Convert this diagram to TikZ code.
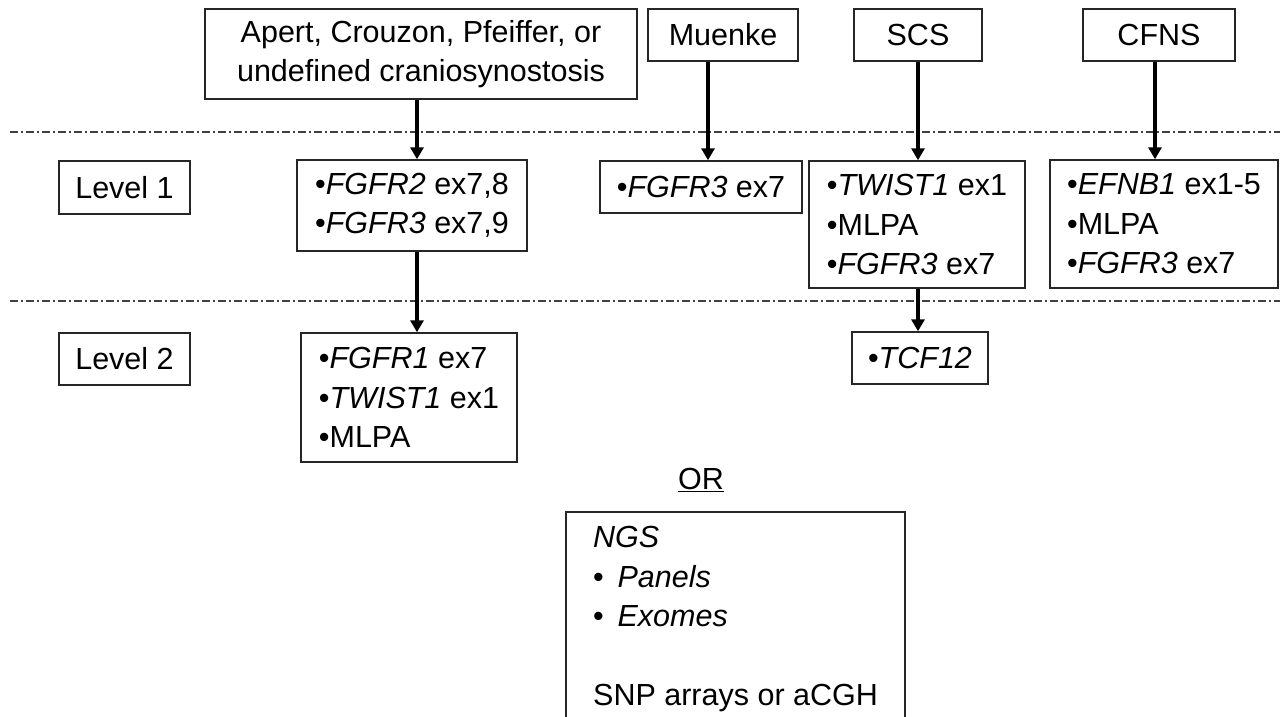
\documentclass[tikz,border=0pt]{standalone}
\usepackage{fontspec}
\setmainfont{Liberation Sans}
\usetikzlibrary{arrows.meta}
\begin{document}
\begin{tikzpicture}[x=1pt,y=-1pt,
    box/.style={draw,line width=1.4pt,black!85,text=black,inner sep=0pt,align=center,font=\fontsize{30.5}{39.5}\selectfont},
    list/.style={box,align=left},
    arr/.style={line width=3.4pt,-{Triangle[width=13pt,length=12pt]}},
    sep/.style={line width=1.1pt,black!75,dash pattern=on 8pt off 3pt on 2pt off 3pt}]
    \useasboundingbox (0,0) rectangle (1280,717);
    \draw[sep] (10,132) -- (1280,132);
    \draw[sep] (10,301) -- (1280,301);
    \node[box,minimum width=432pt,minimum height=90pt] (apert) at (421,54) {Apert, Crouzon, Pfeiffer, or\\undefined craniosynostosis};
    \node[box,minimum width=150pt,minimum height=52pt] (muenke) at (723,35) {Muenke};
    \node[box,minimum width=128pt,minimum height=52pt] (scs) at (918,35) {SCS};
    \node[box,minimum width=152pt,minimum height=52pt] (cfns) at (1159,35) {CFNS};
    \node[box,minimum width=131pt,minimum height=53pt] (lvla) at (124.5,187.5) {Level 1};
    \node[box,minimum width=131pt,minimum height=52pt] (lvlb) at (124.5,359) {Level 2};
    \node[list,minimum width=230pt,minimum height=91pt] (fgfra) at (412,205.5) {•\textit{FGFR2} ex7,8\\•\textit{FGFR3} ex7,9};
    \node[list,minimum width=202pt,minimum height=52pt] (fgfrm) at (701,187) {•\textit{FGFR3} ex7};
    \node[list,minimum width=216pt,minimum height=127pt] (scsa) at (917,224.5) {•\textit{TWIST1} ex1\\•MLPA\\•\textit{FGFR3} ex7};
    \node[list,minimum width=228pt,minimum height=128pt] (cfnsa) at (1164,224) {•\textit{EFNB1} ex1-5\\•MLPA\\•\textit{FGFR3} ex7};
    \node[list,minimum width=216pt,minimum height=129pt] (fgfrb) at (409,397.5) {•\textit{FGFR1} ex7\\•\textit{TWIST1} ex1\\•MLPA};
    \node[list,minimum width=136pt,minimum height=52pt] (tcf) at (920,358) {•\textit{TCF12}};
    \node[font=\fontsize{30.5}{39.5}\selectfont,inner sep=0pt,anchor=base] (or) at (701,489) {\underline{OR}};
    \node[font=\fontsize{30.5}{39.5}\selectfont,inner sep=0pt,align=left,anchor=north west] (ngs) at (593,526)
        {\textit{NGS}\\•\hspace{0.45em}\textit{Panels}\\•\hspace{0.45em}\textit{Exomes}\\[39.5pt]SNP arrays or aCGH};
    \draw[line width=1.4pt,black!85] (566,717) |- (905,512) -- (905,717);
    \coordinate (xa) at (417,0);
    \coordinate (xb) at (708,0);
    \coordinate (xc) at (918,0);
    \coordinate (xd) at (1155,0);
    \draw[arr] (apert.south -| xa) -- (fgfra.north -| xa);
    \draw[arr] (fgfra.south -| xa) -- (fgfrb.north -| xa);
    \draw[arr] (muenke.south -| xb) -- (fgfrm.north -| xb);
    \draw[arr] (scs.south -| xc) -- (scsa.north -| xc);
    \draw[arr] (scsa.south -| xc) -- (tcf.north -| xc);
    \draw[arr] (cfns.south -| xd) -- (cfnsa.north -| xd);
\end{tikzpicture}
\end{document}
